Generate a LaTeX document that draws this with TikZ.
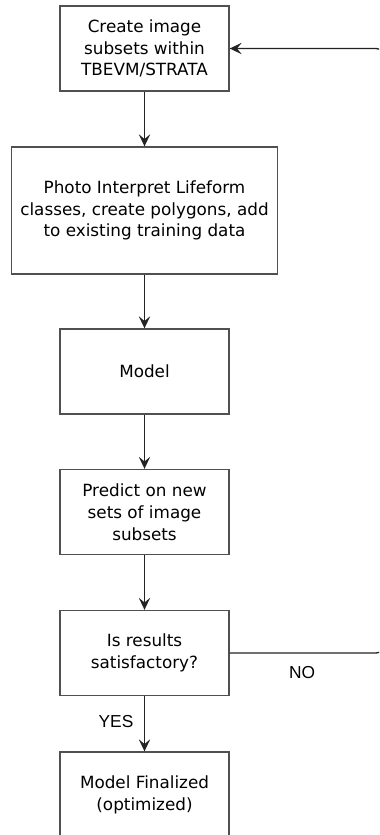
\documentclass[tikz,border=0pt]{standalone}
\usepackage{fontspec}
\setmainfont{DejaVu Sans}
\newfontfamily\branchfont{Liberation Sans}
\usetikzlibrary{arrows.meta}

\tikzset{every picture/.style={line width=0.75pt}}
\tikzset{
  stepbox/.style={draw={rgb, 255:red, 80; green, 80; blue, 80 }, line width=1pt, fill=white, align=center, inner sep=0pt,
    minimum width=126.75pt, minimum height=63.75pt, font=\fontsize{12.6}{16.3}\selectfont},
  flowarrow/.style={draw={rgb, 255:red, 35; green, 35; blue, 35 }, line width=1pt, -{Stealth[length=9pt,width=8.5pt,inset=3.5pt]}},
  branchtext/.style={font=\branchfont\fontsize{13}{15}\selectfont, inner sep=0pt}
}

\begin{document}
\begin{tikzpicture}[x=0.75pt,y=0.75pt,yscale=-1,xscale=1]
\useasboundingbox (0,0) rectangle (379,835);
\clip (0,0) rectangle (379,835);

% Text Node
\node (subsets) [stepbox] at (144.5,48.5) {Create image\\subsets within\\TBEVM/STRATA};
% Text Node
\node (interpret) [stepbox, minimum width=199.5pt, minimum height=95.25pt] at (144.5,210.5) {Photo Interpret Lifeform\\classes, create polygons, add\\to existing training data};
% Text Node
\node (model) [stepbox] at (144.5,371.5) {Model};
% Text Node
\node (predict) [stepbox] at (144.5,512) {Predict on new\\sets of image\\subsets};
% Text Node
\node (check) [stepbox] at (144.5,653) {Is results\\satisfactory?};
% Text Node
\node (final) [stepbox] at (144.5,794.5) {Model Finalized\\(optimized)};

% Connection
\draw [flowarrow] (subsets) -- (interpret);
% Connection
\draw [flowarrow] (interpret) -- (model);
% Connection
\draw [flowarrow] (model) -- (predict);
% Connection
\draw [flowarrow] (predict) -- (check);
% Connection
\draw [flowarrow] (check) -- (final);
% Connection, loops back when the answer is NO
\draw [flowarrow, rounded corners=6pt] (check.east) -- (384,653) -- (384,48.5) -- (subsets.east);

% Text Node
\node (yes) [branchtext] at (116,722) {YES};
% Text Node
\node (no) [branchtext] at (302,673) {NO};

\end{tikzpicture}
\end{document}
